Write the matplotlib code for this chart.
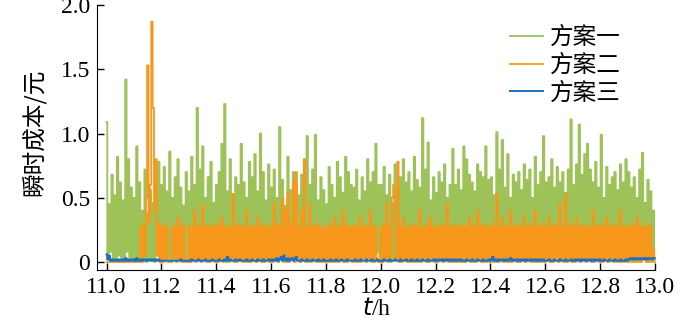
import numpy as np
import matplotlib.pyplot as plt

plt.rcParams['font.family'] = ['Liberation Serif', 'Noto Sans CJK SC']

# time grid: 400 samples from 11.0 h to 13.0 h
t = np.linspace(11.0, 13.0, 400)

# 方案一 (green), 20 samples per 0.1 h
cost1 = [
    1.09, 0.02, 0.45, 0.08, 0.68, 0.02, 0.52, 0.03, 0.82, 0.05, 0.62, 0.03, 0.48, 0.00, 1.42, 0.08, 0.80, 0.02, 0.58, 0.03,
    0.50, 0.00, 0.90, 0.03, 0.62, 0.05, 0.40, 0.03, 0.72, 0.00, 0.38, 0.02, 0.56, 0.03, 0.46, 0.00, 0.62, 0.05, 0.78, 0.03,
    0.60, 0.00, 0.74, 0.02, 0.55, 0.03, 0.86, 0.00, 0.50, 0.02, 0.66, 0.08, 0.80, 0.05, 0.58, 0.03, 0.44, 0.02, 0.70, 0.00,
    0.55, 0.00, 0.82, 0.02, 0.60, 0.03, 1.20, 0.05, 0.72, 0.08, 0.90, 0.02, 0.50, 0.03, 0.66, 0.00, 0.78, 0.02, 0.46, 0.08,
    0.60, 0.00, 0.70, 0.02, 0.92, 0.03, 1.23, 0.00, 0.55, 0.02, 0.80, 0.08, 0.50, 0.05, 0.66, 0.03, 0.60, 0.02, 0.92, 0.02,
    0.62, 0.00, 0.50, 0.03, 0.78, 0.02, 0.66, 0.08, 0.84, 0.00, 0.55, 0.02, 1.00, 0.05, 0.70, 0.00, 0.48, 0.03, 0.76, 0.00,
    0.58, 0.02, 0.72, 0.03, 0.50, 0.00, 1.05, 0.02, 0.64, 0.03, 0.44, 0.00, 0.82, 0.02, 0.56, 0.08, 0.70, 0.05, 0.62, 0.03,
    0.52, 0.00, 0.68, 0.02, 0.55, 0.03, 0.98, 0.00, 0.60, 0.02, 0.72, 0.08, 0.99, 0.05, 0.48, 0.03, 0.66, 0.00, 0.56, 0.02,
    0.45, 0.00, 0.74, 0.02, 0.60, 0.03, 0.50, 0.00, 0.78, 0.02, 0.66, 0.03, 0.54, 0.00, 0.82, 0.02, 0.70, 0.08, 0.60, 0.05,
    0.58, 0.03, 0.72, 0.00, 0.48, 0.02, 0.66, 0.03, 0.55, 0.00, 0.80, 0.02, 0.62, 0.03, 0.70, 0.02, 0.92, 0.08, 0.60, 0.00,
    0.60, 0.00, 0.74, 0.02, 0.52, 0.03, 0.68, 0.00, 0.46, 0.02, 0.76, 0.03, 0.58, 0.00, 0.66, 0.05, 0.80, 0.03, 0.62, 0.02,
    0.70, 0.00, 0.55, 0.03, 0.82, 0.02, 0.64, 0.00, 0.58, 0.03, 1.12, 0.02, 0.72, 0.00, 0.93, 0.03, 0.48, 0.02, 0.66, 0.00,
    0.54, 0.03, 0.70, 0.02, 0.62, 0.00, 0.76, 0.03, 0.50, 0.02, 0.60, 0.00, 0.88, 0.03, 0.60, 0.02, 0.72, 0.00, 0.56, 0.03,
    0.90, 0.00, 0.80, 0.02, 0.68, 0.03, 0.62, 0.00, 0.55, 0.02, 0.76, 0.08, 0.70, 0.02, 0.66, 0.03, 0.90, 0.00, 0.64, 0.02,
    0.66, 0.00, 0.52, 0.02, 1.01, 0.00, 0.72, 0.03, 0.95, 0.02, 0.58, 0.00, 0.84, 0.03, 0.50, 0.05, 0.68, 0.08, 0.62, 0.00,
    0.70, 0.02, 0.56, 0.03, 0.76, 0.00, 0.64, 0.02, 0.72, 0.03, 0.50, 0.00, 0.82, 0.02, 0.60, 0.03, 0.70, 0.00, 0.98, 0.02,
    0.62, 0.03, 0.66, 0.00, 0.80, 0.02, 0.58, 0.03, 0.74, 0.00, 0.62, 0.02, 0.70, 0.03, 0.54, 0.00, 0.72, 0.02, 1.11, 0.00,
    0.60, 0.02, 0.76, 0.03, 1.07, 0.00, 0.68, 0.02, 0.84, 0.03, 0.92, 0.02, 0.72, 0.00, 0.62, 0.02, 0.78, 0.03, 0.58, 0.00,
    0.99, 0.02, 0.50, 0.03, 0.74, 0.00, 0.60, 0.02, 0.66, 0.03, 0.70, 0.00, 0.56, 0.02, 0.76, 0.03, 0.62, 0.00, 0.80, 0.02,
    0.70, 0.00, 0.58, 0.03, 0.66, 0.02, 0.50, 0.00, 0.72, 0.03, 0.85, 0.02, 0.46, 0.00, 0.64, 0.03, 0.55, 0.00, 0.40, 0.02,
]

# 方案二 (orange)
cost2 = [
    0.00, 0.00, 0.00, 0.00, 0.00, 0.00, 0.00, 0.00, 0.00, 0.00, 0.00, 0.00, 0.00, 0.00, 0.00, 0.00, 0.00, 0.00, 0.00, 0.00,
    0.00, 0.00, 0.00, 0.00, 0.00, 0.27, 0.00, 0.30, 0.05, 0.50, 1.53, 0.30, 0.60, 1.87, 1.20, 0.40, 0.80, 0.05, 0.30, 0.00,
    0.27, 0.00, 0.30, 0.02, 0.27, 0.00, 0.00, 0.00, 0.28, 0.03, 0.27, 0.00, 0.35, 0.02, 0.27, 0.00, 0.30, 0.00, 0.00, 0.00,
    0.28, 0.00, 0.27, 0.02, 0.40, 0.00, 0.27, 0.03, 0.30, 0.00, 0.45, 0.02, 0.27, 0.00, 0.28, 0.00, 0.27, 0.02, 0.30, 0.00,
    0.27, 0.00, 0.30, 0.02, 0.35, 0.00, 0.27, 0.03, 0.28, 0.00, 0.27, 0.02, 0.53, 0.00, 0.27, 0.00, 0.30, 0.02, 0.28, 0.00,
    0.27, 0.02, 0.40, 0.00, 0.27, 0.00, 0.28, 0.03, 0.27, 0.00, 0.35, 0.02, 0.27, 0.00, 0.30, 0.00, 0.27, 0.02, 0.28, 0.00,
    0.27, 0.00, 0.45, 0.02, 0.30, 0.00, 0.28, 0.03, 0.50, 0.00, 0.40, 0.02, 0.55, 0.00, 0.30, 0.02, 0.62, 0.00, 0.70, 0.02,
    0.27, 0.00, 0.40, 0.02, 0.80, 0.00, 0.27, 0.03, 0.45, 0.00, 0.27, 0.02, 0.28, 0.00, 0.30, 0.00, 0.27, 0.02, 0.27, 0.00,
    0.27, 0.02, 0.30, 0.00, 0.27, 0.00, 0.35, 0.03, 0.28, 0.00, 0.27, 0.02, 0.40, 0.00, 0.30, 0.00, 0.27, 0.02, 0.28, 0.00,
    0.28, 0.00, 0.27, 0.02, 0.35, 0.00, 0.27, 0.03, 0.30, 0.00, 0.27, 0.02, 0.40, 0.00, 0.27, 0.00, 0.28, 0.02, 0.00, 0.00,
    0.27, 0.00, 0.30, 0.02, 0.45, 0.00, 0.27, 0.03, 0.50, 0.60, 0.30, 0.02, 0.78, 0.00, 0.27, 0.00, 0.35, 0.02, 0.27, 0.00,
    0.27, 0.02, 0.28, 0.00, 0.30, 0.00, 0.27, 0.03, 0.40, 0.00, 0.27, 0.02, 0.27, 0.00, 0.30, 0.00, 0.35, 0.02, 0.27, 0.00,
    0.27, 0.00, 0.28, 0.02, 0.30, 0.00, 0.27, 0.03, 0.45, 0.00, 0.27, 0.02, 0.28, 0.00, 0.30, 0.00, 0.27, 0.02, 0.28, 0.00,
    0.28, 0.00, 0.27, 0.02, 0.35, 0.00, 0.30, 0.03, 0.27, 0.00, 0.40, 0.02, 0.27, 0.00, 0.30, 0.00, 0.28, 0.02, 0.27, 0.00,
    0.27, 0.02, 0.30, 0.00, 0.53, 0.00, 0.27, 0.03, 0.35, 0.00, 0.27, 0.02, 0.28, 0.00, 0.40, 0.00, 0.27, 0.02, 0.30, 0.00,
    0.27, 0.00, 0.28, 0.02, 0.35, 0.00, 0.27, 0.03, 0.30, 0.00, 0.27, 0.02, 0.40, 0.00, 0.28, 0.00, 0.27, 0.02, 0.30, 0.00,
    0.27, 0.02, 0.35, 0.00, 0.27, 0.00, 0.28, 0.03, 0.30, 0.00, 0.45, 0.02, 0.27, 0.00, 0.53, 0.00, 0.28, 0.02, 0.30, 0.00,
    0.27, 0.00, 0.35, 0.02, 0.27, 0.00, 0.28, 0.03, 0.30, 0.00, 0.27, 0.02, 0.27, 0.00, 0.40, 0.00, 0.27, 0.02, 0.28, 0.00,
    0.30, 0.00, 0.27, 0.02, 0.35, 0.00, 0.27, 0.03, 0.28, 0.00, 0.30, 0.02, 0.27, 0.00, 0.40, 0.00, 0.27, 0.02, 0.28, 0.00,
    0.27, 0.02, 0.30, 0.00, 0.27, 0.00, 0.35, 0.03, 0.28, 0.00, 0.27, 0.02, 0.30, 0.00, 0.27, 0.00, 0.28, 0.02, 0.10, 0.00,
]

# 方案三 (blue)
cost3 = [
    0.06, 0.02, 0.05, 0.01, 0.02, 0.01, 0.02, 0.01, 0.02, 0.01, 0.02, 0.01, 0.02, 0.01, 0.03, 0.01, 0.02, 0.01, 0.02, 0.01,
    0.02, 0.01, 0.03, 0.01, 0.02, 0.01, 0.02, 0.01, 0.02, 0.01, 0.02, 0.01, 0.02, 0.01, 0.02, 0.01, 0.02, 0.01, 0.02, 0.01,
    0.01, 0.01, 0.01, 0.01, 0.01, 0.01, 0.01, 0.01, 0.01, 0.01, 0.01, 0.01, 0.01, 0.01, 0.02, 0.01, 0.01, 0.01, 0.01, 0.01,
    0.01, 0.01, 0.02, 0.01, 0.01, 0.01, 0.01, 0.02, 0.01, 0.01, 0.01, 0.01, 0.02, 0.01, 0.01, 0.01, 0.01, 0.02, 0.01, 0.01,
    0.01, 0.01, 0.02, 0.01, 0.01, 0.01, 0.02, 0.01, 0.04, 0.01, 0.02, 0.01, 0.01, 0.01, 0.02, 0.01, 0.01, 0.02, 0.01, 0.01,
    0.01, 0.01, 0.02, 0.01, 0.01, 0.01, 0.02, 0.01, 0.01, 0.01, 0.02, 0.01, 0.01, 0.01, 0.02, 0.01, 0.01, 0.01, 0.02, 0.01,
    0.02, 0.01, 0.02, 0.01, 0.03, 0.01, 0.02, 0.04, 0.01, 0.05, 0.02, 0.01, 0.03, 0.01, 0.02, 0.03, 0.01, 0.02, 0.04, 0.01,
    0.01, 0.01, 0.02, 0.01, 0.01, 0.01, 0.02, 0.01, 0.01, 0.01, 0.02, 0.01, 0.01, 0.01, 0.02, 0.01, 0.01, 0.01, 0.02, 0.01,
    0.01, 0.01, 0.01, 0.02, 0.01, 0.01, 0.01, 0.02, 0.01, 0.01, 0.01, 0.02, 0.01, 0.01, 0.01, 0.02, 0.01, 0.01, 0.01, 0.01,
    0.01, 0.02, 0.01, 0.01, 0.01, 0.02, 0.01, 0.01, 0.01, 0.02, 0.01, 0.01, 0.01, 0.02, 0.01, 0.01, 0.01, 0.02, 0.01, 0.01,
    0.01, 0.01, 0.02, 0.01, 0.01, 0.01, 0.02, 0.01, 0.01, 0.01, 0.02, 0.01, 0.01, 0.01, 0.02, 0.01, 0.01, 0.01, 0.02, 0.01,
    0.01, 0.01, 0.02, 0.01, 0.01, 0.01, 0.02, 0.01, 0.01, 0.01, 0.02, 0.01, 0.01, 0.01, 0.02, 0.01, 0.01, 0.01, 0.02, 0.01,
    0.02, 0.01, 0.02, 0.01, 0.02, 0.01, 0.02, 0.01, 0.02, 0.01, 0.02, 0.01, 0.02, 0.01, 0.02, 0.01, 0.02, 0.01, 0.02, 0.01,
    0.01, 0.01, 0.02, 0.01, 0.01, 0.01, 0.02, 0.01, 0.01, 0.01, 0.02, 0.01, 0.01, 0.01, 0.02, 0.01, 0.01, 0.01, 0.02, 0.01,
    0.02, 0.04, 0.01, 0.02, 0.01, 0.02, 0.01, 0.02, 0.01, 0.02, 0.01, 0.02, 0.01, 0.02, 0.03, 0.01, 0.02, 0.01, 0.02, 0.01,
    0.02, 0.01, 0.02, 0.01, 0.02, 0.01, 0.02, 0.01, 0.02, 0.01, 0.02, 0.01, 0.02, 0.01, 0.02, 0.01, 0.02, 0.01, 0.02, 0.01,
    0.01, 0.01, 0.02, 0.01, 0.01, 0.01, 0.02, 0.01, 0.01, 0.01, 0.02, 0.01, 0.01, 0.01, 0.02, 0.01, 0.01, 0.01, 0.02, 0.01,
    0.01, 0.02, 0.01, 0.02, 0.01, 0.02, 0.01, 0.02, 0.01, 0.02, 0.01, 0.02, 0.01, 0.02, 0.01, 0.02, 0.01, 0.02, 0.01, 0.02,
    0.01, 0.01, 0.02, 0.01, 0.01, 0.01, 0.02, 0.01, 0.01, 0.01, 0.02, 0.01, 0.01, 0.01, 0.02, 0.01, 0.01, 0.01, 0.02, 0.01,
    0.02, 0.03, 0.02, 0.03, 0.02, 0.03, 0.02, 0.03, 0.02, 0.03, 0.02, 0.03, 0.02, 0.03, 0.02, 0.03, 0.03, 0.02, 0.03, 0.03,
]

xticks = [11.0, 11.2, 11.4, 11.6, 11.8, 12.0, 12.2, 12.4, 12.6, 12.8, 13.0]
yticks = [0, 0.5, 1.0, 1.5, 2.0]
ytick_labels = ['0', '0.5', '1.0', '1.5', '2.0']

fig = plt.figure(figsize=(7, 3.25), dpi=100)
ax = fig.add_axes([97 / 700, 1 - 270 / 325, (656 - 97) / 700, (270 - 5) / 325])

ax.plot(t, cost1, color='#9DC257', lw=1.3, drawstyle='steps-mid', snap=False, label='方案一')
ax.plot(t, cost2, color='#F7981D', lw=1.3, drawstyle='steps-mid', snap=False, label='方案二')
ax.plot(t, cost3, color='#1F6EBF', lw=1.4, drawstyle='steps-mid', snap=False, label='方案三')

ax.set_xlim(10.965, 13.004)
ax.set_ylim(-0.062, 2.0)
ax.spines['top'].set_visible(False)
ax.spines['right'].set_visible(False)
ax.spines['bottom'].set_bounds(10.965, 13.0)
ax.set_xticks(xticks)
ax.set_xticklabels([f'{v:.1f}' for v in xticks])
ax.set_yticks(yticks)
ax.set_yticklabels(ytick_labels)
ax.tick_params(direction='in', length=5, width=1, labelsize=17, pad=5)

ax.set_xlabel('$\\it{t}$/h', fontsize=17, labelpad=0)
ax.set_ylabel('瞬时成本/元', fontsize=17, family=['Noto Sans CJK SC'])
ax.yaxis.set_label_coords(-0.09, 0.52)

leg = ax.legend(loc='upper right', bbox_to_anchor=(0.937, 0.92), frameon=False,
                prop={'family': 'Noto Sans CJK SC', 'size': 17},
                handlelength=1.4, handletextpad=0.3, labelspacing=0.2,
                borderpad=0, borderaxespad=0)

plt.savefig('out.png')
